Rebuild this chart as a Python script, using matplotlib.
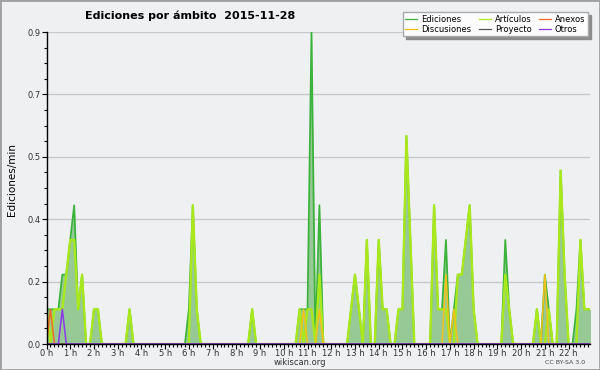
import numpy as np
import matplotlib
matplotlib.use("Agg")
import matplotlib.pyplot as plt
from matplotlib.patches import Rectangle

# ediciones por minuto, un punto cada 10 minutos desde las 0:00
ediciones = [
    0.1, 0.1, 0.1, 0.1, 0.2, 0.2, 0.3, 0.4, 0.1, 0.2, 0.0, 0.0,
    0.1, 0.1, 0.0, 0.0, 0.0, 0.0, 0.0, 0.0, 0.0, 0.1, 0.0, 0.0,
    0.0, 0.0, 0.0, 0.0, 0.0, 0.0, 0.0, 0.0, 0.0, 0.0, 0.0, 0.0,
    0.1, 0.4, 0.1, 0.0, 0.0, 0.0, 0.0, 0.0, 0.0, 0.0, 0.0, 0.0,
    0.0, 0.0, 0.0, 0.0, 0.1, 0.0, 0.0, 0.0, 0.0, 0.0, 0.0, 0.0,
    0.0, 0.0, 0.0, 0.0, 0.1, 0.1, 0.1, 0.9, 0.0, 0.4, 0.0, 0.0,
    0.0, 0.0, 0.0, 0.0, 0.0, 0.1, 0.2, 0.1, 0.0, 0.3, 0.0, 0.0,
    0.3, 0.1, 0.1, 0.0, 0.0, 0.1, 0.1, 0.6, 0.3, 0.0, 0.0, 0.0,
    0.0, 0.0, 0.4, 0.1, 0.1, 0.3, 0.0, 0.1, 0.2, 0.2, 0.3, 0.4,
    0.1, 0.0, 0.0, 0.0, 0.0, 0.0, 0.0, 0.0, 0.3, 0.1, 0.0, 0.0,
    0.0, 0.0, 0.0, 0.0, 0.1, 0.0, 0.2, 0.1, 0.0, 0.0, 0.5, 0.2,
    0.0, 0.0, 0.1, 0.3, 0.1, 0.1, 0.1,
]
articulos = [
    0.1, 0.0, 0.1, 0.1, 0.1, 0.2, 0.3, 0.3, 0.1, 0.2, 0.0, 0.0,
    0.1, 0.1, 0.0, 0.0, 0.0, 0.0, 0.0, 0.0, 0.0, 0.1, 0.0, 0.0,
    0.0, 0.0, 0.0, 0.0, 0.0, 0.0, 0.0, 0.0, 0.0, 0.0, 0.0, 0.0,
    0.0, 0.4, 0.1, 0.0, 0.0, 0.0, 0.0, 0.0, 0.0, 0.0, 0.0, 0.0,
    0.0, 0.0, 0.0, 0.0, 0.1, 0.0, 0.0, 0.0, 0.0, 0.0, 0.0, 0.0,
    0.0, 0.0, 0.0, 0.0, 0.1, 0.0, 0.1, 0.1, 0.0, 0.2, 0.0, 0.0,
    0.0, 0.0, 0.0, 0.0, 0.0, 0.1, 0.2, 0.1, 0.0, 0.3, 0.0, 0.0,
    0.3, 0.1, 0.1, 0.0, 0.0, 0.1, 0.1, 0.6, 0.3, 0.0, 0.0, 0.0,
    0.0, 0.0, 0.4, 0.1, 0.1, 0.1, 0.0, 0.0, 0.2, 0.2, 0.3, 0.4,
    0.1, 0.0, 0.0, 0.0, 0.0, 0.0, 0.0, 0.0, 0.2, 0.1, 0.0, 0.0,
    0.0, 0.0, 0.0, 0.0, 0.1, 0.0, 0.0, 0.1, 0.0, 0.0, 0.5, 0.2,
    0.0, 0.0, 0.0, 0.3, 0.1, 0.1, 0.1,
]
# series casi vacias: {indice de 10 min: valor}
anexos_pts = {1: 0.1}
discusiones_pts = {65: 0.1, 69: 0.1, 101: 0.2, 103: 0.1, 126: 0.2}
proyecto_pts = {}
otros_pts = {4: 0.1}

hour_labels = ["%d h" % h for h in range(23)]

n = len(ediciones)
hours = np.arange(n) / 6.0


def sparse(pts):
    s = np.zeros(n)
    for k, v in pts.items():
        s[k] = v
    return s


bg = "#eff0f2"
fig = plt.figure(figsize=(6, 3.7), dpi=100, facecolor=bg)
ax = fig.add_axes([46.5 / 600, 26 / 370, 543.5 / 600, 312 / 370])
ax.set_facecolor(bg)

ax.fill_between(hours, ediciones, color="#97c997", lw=0, zorder=1)
l_ed, = ax.plot(hours, ediciones, color="#3cb33c", lw=1.3, zorder=3, label="Ediciones")
l_ar, = ax.plot(hours, articulos, color="#a8e81c", lw=1.7, zorder=4, label="Artículos")
l_an, = ax.plot(hours, sparse(anexos_pts), color="#f06a28", lw=1.1, zorder=5, label="Anexos")
l_di, = ax.plot(hours, sparse(discusiones_pts), color="#f2c21a", lw=1.1, zorder=5, label="Discusiones")
l_pr, = ax.plot(hours, sparse(proyecto_pts), color="#555555", lw=1.1, zorder=5, label="Proyecto")
l_ot, = ax.plot(hours, sparse(otros_pts), color="#8a3ae8", lw=1.1, zorder=6, label="Otros")

ax.set_xlim(0, 543.5 / 3.955 / 6)
ax.set_ylim(0, 0.9)

yt = np.linspace(0, 0.9, 6)
ax.set_yticks(yt)
ax.set_yticklabels(["%.1f" % v for v in yt])
ax.set_yticks(np.arange(0, 0.9001, 0.045), minor=True)
ax.set_xticks(range(23))
ax.set_xticklabels(hour_labels)
ax.set_xticks(np.arange(0, 22.95, 1 / 6), minor=True)

ax.yaxis.grid(True, color="#c9c9c9", lw=1)
ax.set_axisbelow(True)
for s in ["top", "right"]:
    ax.spines[s].set_visible(False)
for s in ["left", "bottom"]:
    ax.spines[s].set_linewidth(1.0)
    ax.spines[s].set_zorder(7)
ax.tick_params(which="major", direction="out", length=3.5, width=0.8,
               labelsize=6, labelcolor="#333333", pad=1)
ax.tick_params(axis="x", which="major", pad=0)
ax.tick_params(which="minor", direction="out", length=2.5, width=0.8)

fig.text(85 / 600, 1 - 16 / 370, "Ediciones por ámbito  2015-11-28",
         fontsize=8, fontweight="bold", va="center", ha="left")
fig.text(12 / 600, 1 - 180 / 370, "Ediciones/min", fontsize=7.5,
         rotation=90, va="center", ha="center")
fig.text(300 / 600, 1 - 362.5 / 370, "wikiscan.org", fontsize=6,
         color="#333333", va="center", ha="center")
fig.text(565 / 600, 1 - 362 / 370, "CC BY-SA 3.0", fontsize=4.5,
         color="#444444", va="center", ha="center")

leg = ax.legend(handles=[l_ed, l_di, l_ar, l_pr, l_an, l_ot], ncol=3,
                loc="upper right", bbox_to_anchor=(592 / 600, 1 - 8 / 370),
                bbox_transform=fig.transFigure, fontsize=6, frameon=True,
                fancybox=False, framealpha=1, facecolor="#fcfcfc",
                edgecolor="#aaaaaa", shadow={"color": "#8c8c8c", "alpha": 1},
                handlelength=1.4, handletextpad=0.5, columnspacing=0.9,
                labelspacing=0.1, borderpad=0.3)
leg.set_zorder(10)
for line in leg.get_lines():
    line.set_linewidth(0.9)

fig.patches.append(Rectangle((0, 0), 1, 1, transform=fig.transFigure,
                             fill=False, edgecolor="#a0a0a0", lw=2))

fig.savefig("out.png", dpi=100, facecolor=bg)
